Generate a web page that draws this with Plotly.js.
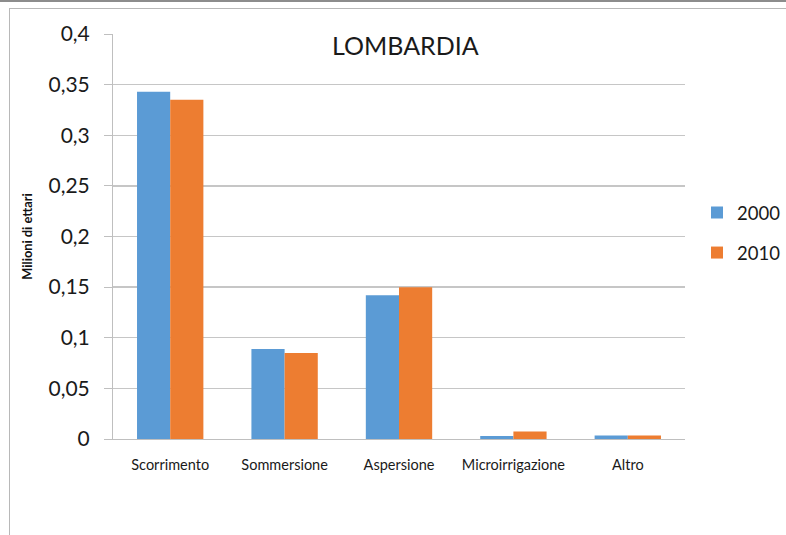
<!DOCTYPE html>
<html>
<head>
<meta charset="utf-8">
<script src="https://cdn.plot.ly/plotly-3.0.1.min.js"></script>
<style>
  html, body { margin: 0; padding: 0; background: #ffffff; }
  #wrap { position: relative; width: 786px; height: 535px; overflow: hidden; background: #ffffff; }
  #topline { position: absolute; left: 0; top: 0; width: 786px; height: 2px; background: #8c8c8c; }
  #frame { position: absolute; left: 9px; top: 8px; width: 800px; height: 600px; border-left: 1px solid #b8b8b8; border-top: 1px solid #b8b8b8; }
  #chart { position: absolute; left: 0; top: 0; width: 786px; height: 535px; }
</style>
</head>
<body>
<div id="wrap">
  <div id="topline"></div>
  <div id="frame"></div>
  <div id="chart"></div>
</div>
<script>
const categories = ["Scorrimento", "Sommersione", "Aspersione", "Microirrigazione", "Altro"];
const values2000 = [0.343, 0.089, 0.142, 0.003, 0.0035];
const values2010 = [0.335, 0.085, 0.150, 0.0075, 0.0035];
const seriesNames = ["2000", "2010"];
const yTickVals = [0, 0.05, 0.1, 0.15, 0.2, 0.25, 0.3, 0.35, 0.4];
const yTickText = ["0", "0,05", "0,1", "0,15", "0,2", "0,25", "0,3", "0,35", "0,4"];

const FONT = "Lato, 'Open Sans', sans-serif";

const traces = [
  {
    type: "bar", name: seriesNames[0], x: categories, y: values2000,
    marker: { color: "#5b9bd5" }, legendgroup: "a", hoverinfo: "x+y+name"
  },
  {
    type: "bar", name: seriesNames[1], x: categories, y: values2010,
    marker: { color: "#ed7d31" }, legendgroup: "b", hoverinfo: "x+y+name"
  }
];

const layout = {
  width: 786, height: 535,
  paper_bgcolor: "rgba(0,0,0,0)",
  plot_bgcolor: "rgba(0,0,0,0)",
  margin: { l: 113, r: 101, t: 34, b: 95.5, pad: 0, autoexpand: false },
  barmode: "group",
  bargap: 0.42,
  bargroupgap: 0,
  font: { family: FONT, color: "#1a1a1a" },
  xaxis: {
    type: "category",
    showgrid: false,
    showline: true, linecolor: "#bfbfbf", linewidth: 1,
    ticks: "", tickfont: { size: 14.5, family: FONT, color: "#1a1a1a" },
    ticklabelstandoff: 13,
    fixedrange: true
  },
  yaxis: {
    range: [0, 0.4],
    tickvals: yTickVals, ticktext: yTickText,
    showgrid: true, gridcolor: "#c6c6c6", gridwidth: 1.3,
    zeroline: false,
    showline: true, linecolor: "#bfbfbf", linewidth: 1,
    ticks: "outside", ticklen: 8, tickcolor: "#bfbfbf", tickwidth: 1,
    tickfont: { size: 21, family: FONT, color: "#1a1a1a" },
    ticklabelstandoff: 10,
    title: { text: "<b>Milioni di ettari</b>", font: { size: 12.8, family: FONT, color: "#111111" }, standoff: 13 },
    fixedrange: true
  },
  showlegend: true,
  legend: {
    x: 1.021, xanchor: "left",
    y: 0.605, yanchor: "top",
    font: { size: 18.5, family: FONT, color: "#1a1a1a" },
    bgcolor: "rgba(0,0,0,0)",
    traceorder: "grouped",
    tracegroupgap: 13,
    itemwidth: 30
  },
  annotations: [
    {
      text: "LOMBARDIA", xref: "paper", yref: "paper",
      x: 0.511, y: 0.973, xanchor: "center", yanchor: "middle",
      showarrow: false, font: { size: 25, family: FONT, color: "#1a1a1a" }
    }
  ]
};

Plotly.newPlot("chart", traces, layout, { displayModeBar: false, staticPlot: true });
</script>
</body>
</html>
